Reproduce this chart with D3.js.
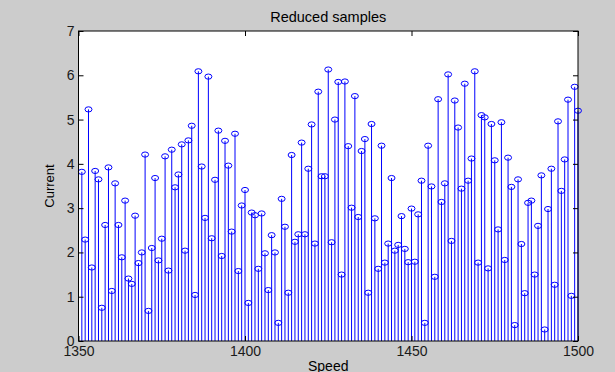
<!DOCTYPE html>
<html>
<head>
<meta charset="utf-8">
<script src="https://cdn.jsdelivr.net/npm/d3@7"></script>
<style>
  html, body { margin: 0; padding: 0; background: #cccccc; }
  svg { display: block; }
  text { font-family: "Liberation Sans", Arial, sans-serif; }
</style>
</head>
<body>
<svg id="chart" width="615" height="372"></svg>
<script>
// ---- data ----
const title = "Reduced samples";
const xLabel = "Speed";
const yLabel = "Current";
const speeds = d3.range(1351, 1501); // one sample per speed step
const currents = [
  3.82, 2.29, 5.23, 1.66, 3.84, 3.65, 0.75, 2.62, 3.92, 1.13,
  3.56, 2.62, 1.89, 3.17, 1.41, 1.29, 2.83, 1.76, 2.00, 4.21,
  0.68, 2.10, 3.68, 1.82, 2.31, 4.17, 1.59, 4.32, 3.47, 3.76,
  4.44, 2.04, 4.53, 4.86, 1.04, 6.09, 3.94, 2.78, 5.97, 2.32,
  3.64, 4.75, 1.92, 4.52, 3.96, 2.47, 4.68, 1.58, 3.06, 3.41,
  0.86, 2.90, 2.84, 1.63, 2.88, 1.98, 1.15, 2.39, 2.00, 0.41,
  3.21, 2.58, 1.09, 4.20, 2.24, 2.41, 4.48, 2.41, 3.89, 4.89,
  2.20, 5.63, 3.72, 3.72, 6.13, 2.23, 5.00, 5.85, 1.50, 5.86,
  4.40, 3.01, 5.53, 2.80, 4.29, 4.56, 1.09, 4.90, 2.77, 1.63,
  4.41, 1.77, 2.20, 3.68, 2.04, 2.17, 2.82, 2.08, 1.78, 2.99,
  1.79, 2.86, 3.62, 0.41, 4.41, 3.49, 1.45, 5.46, 3.14, 3.56,
  6.02, 2.26, 5.43, 4.82, 3.44, 5.81, 3.62, 4.12, 6.09, 1.77,
  5.10, 5.05, 1.64, 4.90, 4.08, 2.52, 4.94, 1.83, 4.14, 3.48,
  0.36, 3.65, 2.19, 1.08, 3.12, 3.17, 1.50, 2.60, 3.74, 0.26,
  2.98, 3.89, 1.27, 4.96, 3.39, 4.10, 5.45, 1.02, 5.74, 5.20
];
const xTicks = [1350, 1400, 1450, 1500];
const yTicks = [0, 1, 2, 3, 4, 5, 6, 7];
const xDomain = [1350, 1500];
const yDomain = [0, 7];

// ---- layout ----
const svg = d3.select("#chart");
const L = 78.5, R = 578, T = 31, B = 341;
const x = d3.scaleLinear().domain(xDomain).range([L, R]);
const y = d3.scaleLinear().domain(yDomain).range([B, T]);

svg.append("rect").attr("width", 615).attr("height", 372).attr("fill", "#cccccc");
svg.append("rect").attr("x", L).attr("y", T).attr("width", R - L).attr("height", B - T)
  .attr("fill", "#ffffff");

const data = speeds.map((s, i) => ({ s, v: currents[i] }));

// stems
const blue = "#0000ff";
svg.append("g").selectAll("line").data(data).join("line")
  .attr("x1", d => x(d.s)).attr("x2", d => x(d.s))
  .attr("y1", y(0)).attr("y2", d => y(d.v))
  .attr("stroke", blue).attr("stroke-width", 1);

// markers
svg.append("g").selectAll("ellipse").data(data).join("ellipse")
  .attr("cx", d => x(d.s)).attr("cy", d => y(d.v))
  .attr("rx", 3.5).attr("ry", 2.6)
  .attr("fill", "none").attr("stroke", blue).attr("stroke-width", 1);

// axes
const tk = 5;
const fmt = d3.format("d");
const gx = svg.append("g").attr("transform", `translate(0,${B})`)
  .call(d3.axisBottom(x).tickValues(xTicks).tickFormat(fmt).tickSizeInner(-tk).tickSizeOuter(0).tickPadding(5));
const gxt = svg.append("g").attr("transform", `translate(0,${T})`)
  .call(d3.axisTop(x).tickValues(xTicks).tickFormat("").tickSizeInner(-tk).tickSizeOuter(0));
const gy = svg.append("g").attr("transform", `translate(${L},0)`)
  .call(d3.axisLeft(y).tickValues(yTicks).tickFormat(fmt).tickSizeInner(-tk).tickSizeOuter(0).tickPadding(4));
const gyr = svg.append("g").attr("transform", `translate(${R},0)`)
  .call(d3.axisRight(y).tickValues(yTicks).tickFormat("").tickSizeInner(-tk).tickSizeOuter(0));

[gx, gxt, gy, gyr].forEach(g => {
  g.select(".domain").remove();
  g.selectAll(".tick line").attr("stroke", "#000");
  g.selectAll(".tick text").attr("fill", "#1a1a1a")
    .style("font-family", '"Liberation Sans", Arial, sans-serif').style("font-size", "14px");
});

// box
svg.append("rect").attr("x", L).attr("y", T).attr("width", R - L).attr("height", B - T)
  .attr("fill", "none").attr("stroke", "#000").attr("stroke-width", 1);

// labels
svg.append("text").attr("x", (L + R) / 2).attr("y", 22).attr("text-anchor", "middle")
  .style("font-size", "14.5px").attr("fill", "#000").text(title);
svg.append("text").attr("x", (L + R) / 2).attr("y", 371).attr("text-anchor", "middle")
  .style("font-size", "14px").attr("fill", "#000").text(xLabel);
svg.append("text").attr("transform", `translate(54,${(T + B) / 2}) rotate(-90)`)
  .attr("text-anchor", "middle").style("font-size", "13px").attr("fill", "#000").text(yLabel);
</script>
</body>
</html>
